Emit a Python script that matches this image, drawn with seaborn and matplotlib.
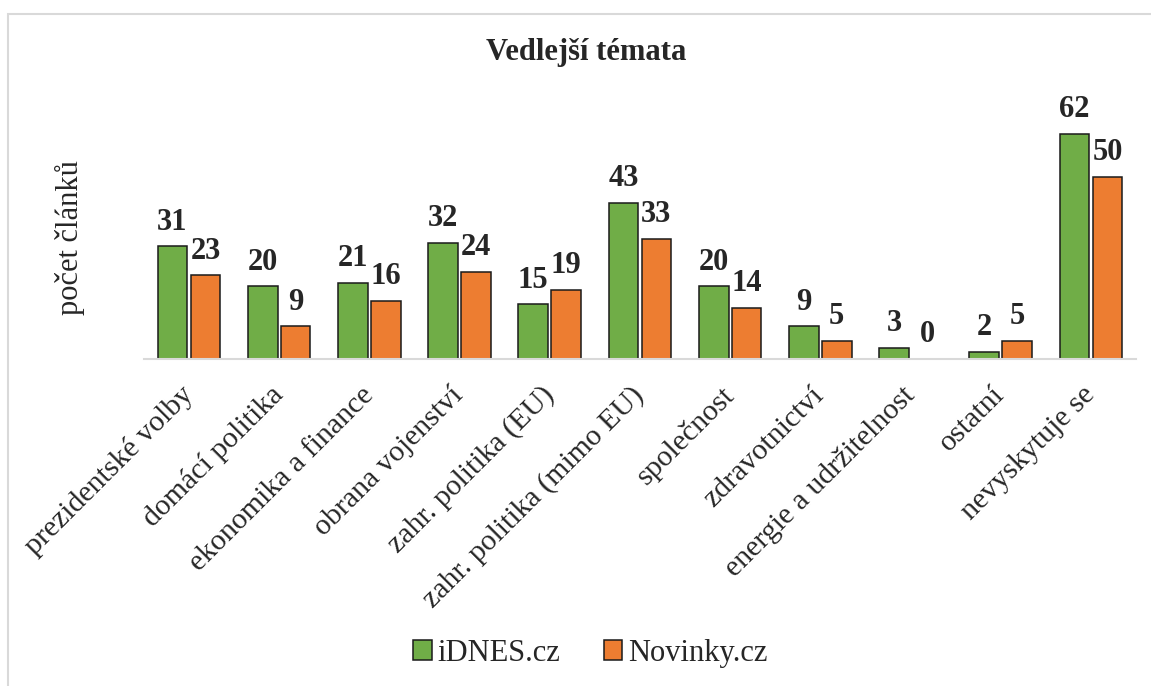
import matplotlib.pyplot as plt
import pandas as pd
import seaborn as sns
from matplotlib.patches import Rectangle, Patch

categories = [
    "prezidentské volby",
    "domácí politika",
    "ekonomika a finance",
    "obrana vojenství",
    "zahr. politika (EU)",
    "zahr. politika (mimo EU)",
    "společnost",
    "zdravotnictví",
    "energie a udržitelnost",
    "ostatní",
    "nevyskytuje se",
]
idnes = [31, 20, 21, 32, 15, 43, 20, 9, 3, 2, 62]
novinky = [23, 9, 16, 24, 19, 33, 14, 5, 0, 5, 50]
series_names = ["iDNES.cz", "Novinky.cz"]
colors = ["#70AD47", "#ED7D31"]

sns.set_style("white")
plt.rcParams["font.family"] = ["Liberation Serif", "DejaVu Serif"]

df = pd.DataFrame({
    "tema": categories * 2,
    "pocet": idnes + novinky,
    "server": [series_names[0]] * len(categories) + [series_names[1]] * len(categories),
})

fig = plt.figure(figsize=(11.51, 6.86), dpi=100)
ax = fig.add_axes([0.125, 0.4767, 0.862, 0.371])

sns.barplot(
    data=df,
    x="tema",
    y="pocet",
    hue="server",
    palette=colors,
    saturation=1,
    order=categories,
    hue_order=series_names,
    edgecolor="#1a1a1a",
    linewidth=1.1,
    width=0.73,
    gap=0.1,
    errorbar=None,
    legend=False,
    ax=ax,
)

ax.set_ylim(0, 70)
ax.set_xlim(-0.5, len(categories) - 0.5)

for container in ax.containers:
    ax.bar_label(container, padding=7, fontsize=22, fontweight="bold")

ax.set_xlabel("")
ax.set_ylabel("")
ax.set_yticks([])
ax.tick_params(axis="x", length=0, pad=23)
ax.set_xticks(range(len(categories)))
ax.set_xticklabels(categories, rotation=45, ha="right", va="center",
                   rotation_mode="anchor", fontsize=21.5)

for side in ["top", "left", "right"]:
    ax.spines[side].set_visible(False)
ax.spines["bottom"].set_color("#D9D9D9")
ax.spines["bottom"].set_linewidth(1.5)

fig.text(0.509, 0.923, "Vedlejší témata", ha="center", va="center",
         fontsize=22, fontweight="bold")
fig.text(0.061, 0.654, "počet článků", ha="center", va="center",
         rotation=90, fontsize=22)

handles = [Patch(facecolor=c, edgecolor="#1a1a1a", linewidth=1.1) for c in colors]
fig.legend(handles, series_names, loc="center", bbox_to_anchor=(0.513, 0.048),
           ncol=2, frameon=False, fontsize=22, handlelength=0.6,
           handleheight=0.6, handletextpad=0.2, columnspacing=1.4)

fig.patches.append(Rectangle((8 / 1151, -0.1), 1.2, 1 - 14 / 686 + 0.1,
                             transform=fig.transFigure, fill=False,
                             edgecolor="#D9D9D9", linewidth=1.5))

fig.savefig("out.png", dpi=100)
